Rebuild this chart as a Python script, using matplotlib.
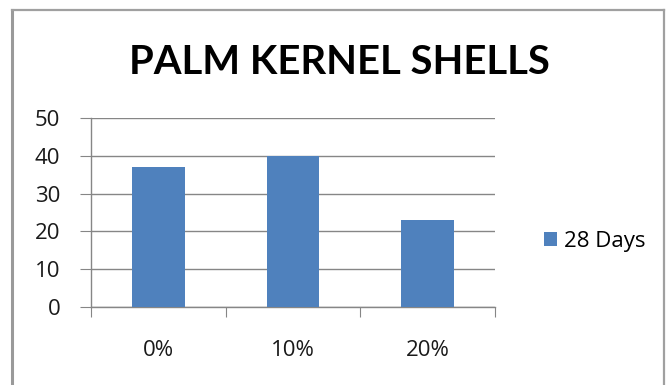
import matplotlib.pyplot as plt
from matplotlib.lines import Line2D

categories = ['0%', '10%', '20%']
days_28 = [37, 40, 23]
series_name = '28 Days'
y_ticks = [0, 10, 20, 30, 40, 50]

W, H = 668, 385
fig = plt.figure(figsize=(W / 100, H / 100), dpi=100)
fig.patch.set_facecolor('white')

# outer frame (left, top, right only - the bottom is cut off)
frame_col = '#a0a0a0'
fig.add_artist(Line2D([11.5 / W, 11.5 / W], [0, 1 - 10 / H], color='#9a9a9a', lw=2.2))
fig.add_artist(Line2D([11.5 / W, 663.5 / W], [1 - 10 / H, 1 - 10 / H], color=frame_col, lw=1.6))
fig.add_artist(Line2D([663.5 / W, 663.5 / W], [0, 1 - 10 / H], color=frame_col, lw=1.6))

ax = fig.add_axes([91 / W, 1 - 307 / H, 404 / W, 189 / H])
x = list(range(len(categories)))
ax.bar(x, days_28, width=0.39, color='#4F81BD', zorder=3, label=series_name)

ax.set_xlim(-0.5, len(categories) - 0.5)
ax.set_ylim(0, 50)
ax.set_yticks(y_ticks)
ax.yaxis.grid(True, color='#868686', lw=1.0, zorder=0)
for s in ['top', 'right']:
    ax.spines[s].set_visible(False)
for s in ['left', 'bottom']:
    ax.spines[s].set_color('#868686')
    ax.spines[s].set_linewidth(1.0)

ax.set_xticks([i - 0.5 for i in range(len(categories) + 1)])
ax.set_xticklabels([])
ax.set_xticks(x, minor=True)
ax.set_xticklabels(categories, minor=True)
ax.tick_params(axis='x', which='major', length=7, color='#868686', direction='out')
ax.tick_params(axis='x', which='minor', length=0, pad=24, labelsize=16, labelcolor='#1a1a1a')
ax.tick_params(axis='y', length=8, color='#868686', pad=14, labelsize=16, labelcolor='#1a1a1a')
for t in ax.get_xticklabels(minor=True) + ax.get_yticklabels():
    t.set_family('Open Sans')

fig.text(339 / W, 1 - 62 / H, 'PALM KERNEL SHELLS', ha='center', va='center',
         fontsize=28.8, fontweight='bold', family='Lato', color='black')

ax.legend(loc='center left', bbox_to_anchor=(524 / W, 1 - 241 / H), bbox_transform=fig.transFigure,
          frameon=False, handlelength=0.6, handleheight=0.6, handletextpad=0.3,
          prop={'family': 'Open Sans', 'size': 16})

fig.savefig('out.png', dpi=100)
